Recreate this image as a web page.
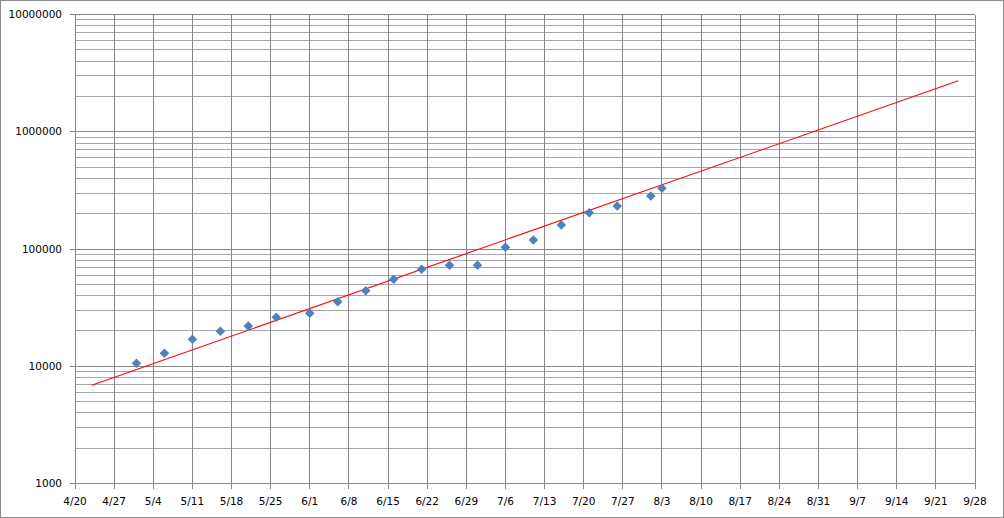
<!DOCTYPE html>
<html>
<head>
<meta charset="utf-8">
<script src="https://cdn.jsdelivr.net/npm/d3@7"></script>
<style>
  body { margin: 0; background: #fff; }
  svg { display: block; }
</style>
</head>
<body>
<div id="chart"></div>
<script>
// Data (year assumed 2020)
const pointDates = ["5/1", "5/6", "5/11", "5/16", "5/21", "5/26", "6/1", "6/6", "6/11", "6/16",
  "6/21", "6/26", "7/1", "7/6", "7/11", "7/16", "7/21", "7/26", "8/1", "8/3"];
const pointValues = [10600, 12900, 17000, 19900, 22000, 26200, 28300, 35500, 44100, 55200,
  67100, 72600, 72600, 103400, 119400, 160200, 203900, 232600, 283200, 329500];
const trendDates = ["4/23", "9/25"];
const trendValues = [6900, 2720000];
const xTickLabels = ["4/20", "4/27", "5/4", "5/11", "5/18", "5/25", "6/1", "6/8", "6/15", "6/22",
  "6/29", "7/6", "7/13", "7/20", "7/27", "8/3", "8/10", "8/17", "8/24", "8/31", "9/7",
  "9/14", "9/21", "9/28"];
const yTickValues = [1000, 10000, 100000, 1000000, 10000000];

const parseDate = (s) => {
  const [m, d] = s.split("/").map(Number);
  return new Date(Date.UTC(2020, m - 1, d));
};

// Dimensions
let dimensions = {
  width: 1004,
  height: 518,
  left: 75,
  right: 975,
  top: 14.5,
  bottom: 483.5,
};

const svg = d3
  .select("#chart")
  .append("svg")
  .attr("width", dimensions.width)
  .attr("height", dimensions.height);

// outer border
svg
  .append("rect")
  .attr("x", 0.5)
  .attr("y", 0.5)
  .attr("width", dimensions.width - 1)
  .attr("height", dimensions.height - 1)
  .attr("fill", "#fff")
  .attr("stroke", "#8c8c8c");

// Scales
const xScale = d3
  .scaleUtc()
  .domain([parseDate("4/20"), parseDate("9/28")])
  .range([dimensions.left, dimensions.right]);

const yScale = d3
  .scaleLog()
  .domain([1000, 10000000])
  .range([dimensions.bottom, dimensions.top]);

const font = "'DejaVu Sans', Verdana, sans-serif";

// minor horizontal grid (2..9 x each decade)
const minorVals = [];
yTickValues.slice(0, -1).forEach((p) => {
  for (let k = 2; k <= 9; k++) minorVals.push(p * k);
});

const grid = svg.append("g").attr("shape-rendering", "crispEdges");

grid
  .selectAll(".minor")
  .data(minorVals)
  .join("line")
  .attr("x1", dimensions.left)
  .attr("x2", dimensions.right)
  .attr("y1", (d) => yScale(d))
  .attr("y2", (d) => yScale(d))
  .attr("stroke", "#a6a6a6");

grid
  .selectAll(".vline")
  .data(xTickLabels)
  .join("line")
  .attr("x1", (d) => xScale(parseDate(d)))
  .attr("x2", (d) => xScale(parseDate(d)))
  .attr("y1", dimensions.top)
  .attr("y2", dimensions.bottom + 5)
  .attr("stroke", "#868686");

grid
  .selectAll(".major")
  .data(yTickValues)
  .join("line")
  .attr("x1", dimensions.left - 5)
  .attr("x2", dimensions.right)
  .attr("y1", (d) => yScale(d))
  .attr("y2", (d) => yScale(d))
  .attr("stroke", "#868686");

// Axis labels
svg
  .append("g")
  .selectAll("text")
  .data(yTickValues)
  .join("text")
  .attr("x", dimensions.left - 13)
  .attr("y", (d) => yScale(d))
  .attr("dy", "0.35em")
  .attr("text-anchor", "end")
  .style("font-family", font)
  .style("font-size", "10.5px")
  .attr("fill", "#000")
  .text((d) => d);

svg
  .append("g")
  .selectAll("text")
  .data(xTickLabels)
  .join("text")
  .attr("x", (d) => xScale(parseDate(d)))
  .attr("y", 505)
  .attr("text-anchor", "middle")
  .style("font-family", font)
  .style("font-size", "10.5px")
  .attr("fill", "#000")
  .text((d) => d);

// trend line (exponential -> straight on log axis)
const lineGenerator = d3
  .line()
  .x((d, i) => xScale(parseDate(trendDates[i])))
  .y((d) => yScale(d));

svg
  .append("path")
  .datum(trendValues)
  .attr("d", lineGenerator)
  .attr("fill", "none")
  .attr("stroke", "#ff0000")
  .attr("stroke-width", 1.1);

// markers
const diamond = d3.symbol(d3.symbolSquare, 46);

svg
  .append("g")
  .selectAll("path")
  .data(pointValues)
  .join("path")
  .attr("d", diamond)
  .attr(
    "transform",
    (d, i) => `translate(${xScale(parseDate(pointDates[i]))},${yScale(d)}) rotate(45)`
  )
  .attr("fill", "#4f81bd");
</script>
</body>
</html>
